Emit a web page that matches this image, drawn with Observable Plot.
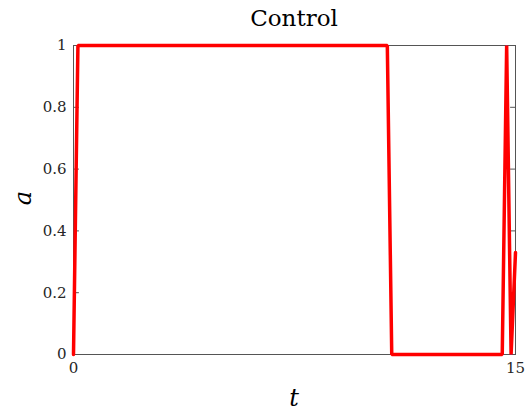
<!DOCTYPE html>
<html>
<head>
<meta charset="utf-8">
<script src="https://cdn.jsdelivr.net/npm/d3@7"></script>
<script src="https://cdn.jsdelivr.net/npm/@observablehq/plot@0.6"></script>
<style>
  html, body { margin: 0; padding: 0; background: #fff; }
  #chart { position: relative; width: 525px; height: 416px; font-family: 'DejaVu Serif', serif; }
  .title { position: absolute; left: 73px; width: 442px; top: 5px; text-align: center;
           font-size: 23px; color: #000; z-index: 2; }
  .xlab { position: absolute; left: 73px; width: 442px; top: 384px; text-align: center;
          font-style: italic; font-size: 24px; color: #000; z-index: 2; }
  .ylab { position: absolute; left: 10px; top: 184px; transform: rotate(-90deg); transform-origin: center;
          font-style: italic; font-size: 24px; color: #000; width: 26px; text-align: center; z-index: 2; }
</style>
</head>
<body>
<div id="chart">
  <div class="title">Control</div>
  <div class="xlab">t</div>
  <div class="ylab">a</div>
</div>
<script>
const tValues = [0, 0.15, 10.65, 10.8, 14.55, 14.7, 14.85, 15];
const aValues = [0, 1, 1, 0, 0, 1, 0, 0.33];
const xTicks = [0, 15];
const yTicks = [0, 0.2, 0.4, 0.6, 0.8, 1];
const yTickLabels = ["0", "0.2", "0.4", "0.6", "0.8", "1"];

const data = tValues.map((t, i) => ({t, a: aValues[i]}));
const fontFamily = "'DejaVu Serif', serif";
const tickShape = {draw(context, l) { context.moveTo(0, 0); context.lineTo(0, -l); }};
const tickOpts = {length: 5, anchor: "start", shape: tickShape, stroke: "#555", strokeWidth: 1};

const plot = Plot.plot({
  width: 525,
  height: 416,
  marginLeft: 73,
  marginRight: 10,
  marginTop: 45,
  marginBottom: 62,
  style: {fontFamily, fontSize: "15px", color: "#262626", background: "transparent"},
  x: {domain: [0, 15]},
  y: {domain: [0, 1]},
  marks: [
    Plot.frame({stroke: "#555", strokeWidth: 1}),
    Plot.axisY(yTicks, {anchor: "left", tickSize: 0, tickPadding: 7, label: null,
      tickFormat: (d) => yTickLabels[yTicks.indexOf(d)], fontSize: 15}),
    Plot.axisX(xTicks, {anchor: "bottom", tickSize: 0, tickPadding: 8, label: null, fontSize: 15,
      tickFormat: (d) => String(d)}),
    Plot.vector(yTicks, {...tickOpts, x: () => 0, y: (d) => d, rotate: 90}),
    Plot.vector(yTicks, {...tickOpts, x: () => 15, y: (d) => d, rotate: -90}),
    Plot.vector(xTicks, {...tickOpts, x: (d) => d, y: () => 0, rotate: 0}),
    Plot.vector(xTicks, {...tickOpts, x: (d) => d, y: () => 1, rotate: 180}),
    Plot.line(data, {x: "t", y: "a", stroke: "#7b2fbe", strokeWidth: 1.2}),
    Plot.line(data, {x: "t", y: "a", stroke: "#ff0000", strokeWidth: 3.5, strokeLinejoin: "miter"})
  ]
});
plot.style.position = "absolute";
plot.style.left = "0";
plot.style.top = "0";
document.getElementById("chart").prepend(plot);
</script>
</body>
</html>
